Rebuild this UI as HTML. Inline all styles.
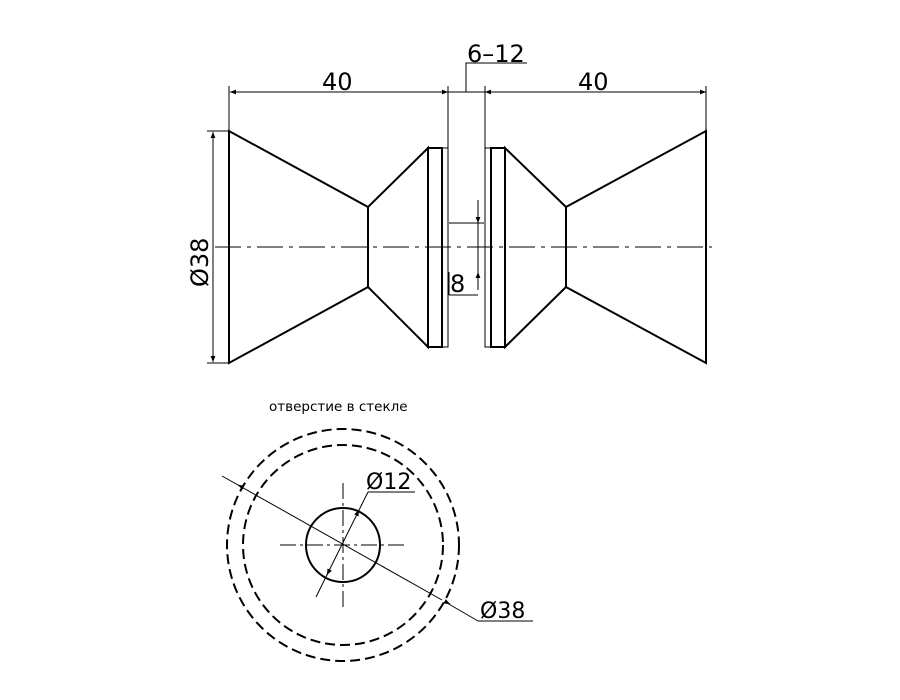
<!DOCTYPE html>
<html><head><meta charset="utf-8"><style>
html,body{margin:0;padding:0;background:#fff;}
svg{display:block;}
text{font-family:"DejaVu Sans","Liberation Sans",sans-serif;fill:#000;}
</style></head><body>
<svg width="900" height="700" viewBox="0 0 900 700" xmlns="http://www.w3.org/2000/svg">
<defs>
<marker id="a" viewBox="0 0 10 10" refX="10" refY="5" markerWidth="12" markerHeight="6" orient="auto-start-reverse" markerUnits="userSpaceOnUse"><path d="M0,1 L10,5 L0,9 z" fill="#000"/></marker>
</defs>
<g stroke="#000" fill="none">
<g stroke-width="2">
<path d="M229,131 L229,363 L368,287 L368,207 Z"/>
<path d="M368,207 L428,148 L428,347 L368,287"/>
<rect x="428" y="148" width="14" height="199"/>
<path d="M706,131 L706,363 L566,287 L566,207 Z"/>
<path d="M566,207 L505,148 L505,347 L566,287"/>
<rect x="491" y="148" width="14" height="199"/>
</g>
<g stroke-width="1">
<rect x="442" y="148" width="6" height="199"/>
<rect x="485" y="148" width="6" height="199"/>
<line x1="215" y1="247" x2="712" y2="247" stroke-dasharray="26,6,4,6"/>
<line x1="229" y1="86" x2="229" y2="131"/>
<line x1="448" y1="86" x2="448" y2="148"/>
<line x1="485" y1="86" x2="485" y2="148"/>
<line x1="706" y1="86" x2="706" y2="131"/>
<line x1="230" y1="92" x2="448" y2="92" marker-start="url(#a)" marker-end="url(#a)"/>
<line x1="485" y1="92" x2="706" y2="92" marker-start="url(#a)" marker-end="url(#a)"/>
<line x1="448" y1="92" x2="485" y2="92"/>
<polyline points="466,92 466,63 527,63"/>
<line x1="207" y1="131" x2="229" y2="131"/>
<line x1="207" y1="363" x2="229" y2="363"/>
<line x1="213" y1="132" x2="213" y2="362" marker-start="url(#a)" marker-end="url(#a)"/>
<line x1="449" y1="223" x2="484" y2="223"/>
<line x1="449" y1="295" x2="478" y2="295"/>
<line x1="449" y1="272" x2="449" y2="295"/>
<line x1="478" y1="200" x2="478" y2="223" marker-end="url(#a)"/>
<line x1="478" y1="290" x2="478" y2="272" marker-end="url(#a)"/>
<line x1="478" y1="223" x2="478" y2="272"/>
</g>
<g stroke-width="2">
<circle cx="343" cy="545" r="116" stroke-dasharray="10,5"/>
<circle cx="343" cy="545" r="100" stroke-dasharray="10,5"/>
<circle cx="343" cy="545" r="37"/>
</g>
<g stroke-width="1">
<line x1="280" y1="545" x2="405" y2="545" stroke-dasharray="16,4,3,4"/>
<line x1="343" y1="483" x2="343" y2="607" stroke-dasharray="16,4,3,4"/>
<line x1="222" y1="476" x2="442" y2="600"/>
<line x1="238" y1="485" x2="242" y2="487" marker-start="url(#a)"/>
<line x1="447" y1="603" x2="478" y2="621"/>
<line x1="450" y1="604" x2="446" y2="602" marker-start="url(#a)"/>
<polyline points="478,621 533,621"/>
<line x1="316" y1="597" x2="368" y2="492"/>
<line x1="368" y1="492" x2="415" y2="492"/>
<line x1="327" y1="575" x2="329" y2="571" marker-start="url(#a)"/>
<line x1="359" y1="510" x2="357" y2="514" marker-start="url(#a)"/>
</g>
</g>
<text x="467" y="62" font-size="24">6–12</text>
<text x="322" y="90" font-size="24">40</text>
<text x="578" y="90" font-size="24">40</text>
<text x="0" y="0" font-size="24" transform="translate(208,287) rotate(-90)">Ø38</text>
<text x="450" y="292" font-size="24">8</text>
<text x="269" y="411" font-size="13.5" font-family="Liberation Sans, sans-serif">отверстие в стекле</text>
<text x="366" y="489" font-size="22">Ø12</text>
<text x="480" y="618" font-size="22">Ø38</text>
</svg>
</body></html>
